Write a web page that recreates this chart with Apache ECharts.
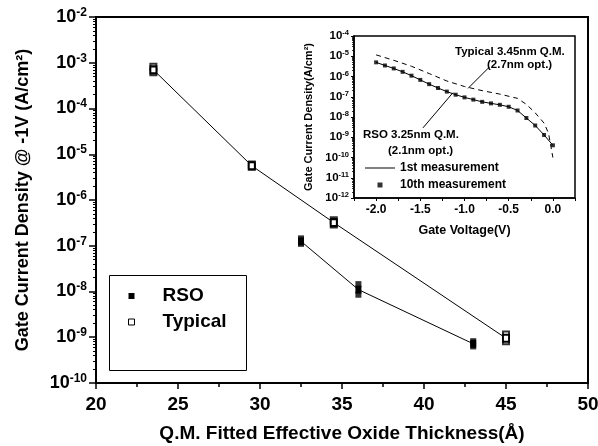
<!DOCTYPE html>
<html>
<head>
<meta charset="utf-8">
<script src="https://cdn.jsdelivr.net/npm/echarts@6/dist/echarts.min.js"></script>
<style>
  html, body { margin: 0; padding: 0; background: #fff; }
  #chart { width: 598px; height: 446px; }
</style>
</head>
<body>
<div id="chart"></div>
<script>
  // main plot: J @ -1V vs fitted oxide thickness (Angstrom)
  const thickTypical = [23.5, 29.5, 34.5, 45];
  const jTypical     = [7.0e-4, 5.6e-6, 3.2e-7, 9.5e-10];
  const jTypicalHi   = [8.2e-4, 6.0e-6, 3.6e-7, 1.15e-9];
  const jTypicalLo   = [6.2e-4, 5.3e-6, 2.9e-7, 8.2e-10];
  const thickRso = [32.5, 36, 43];
  const jRso     = [1.25e-7, 1.1e-8, 7.2e-10];
  const jRsoHi   = [1.45e-7, 1.45e-8, 8.2e-10];
  const jRsoLo   = [1.1e-7, 8.5e-9, 6.3e-10];

  // inset: J-V curves
  const gateV = [-2.0, -1.9, -1.8, -1.7, -1.6, -1.5, -1.4, -1.3, -1.2, -1.1, -1.0,
                 -0.9, -0.8, -0.7, -0.6, -0.5, -0.4, -0.3, -0.2, -0.1, 0.0];
  const jRsoCurve = [5.0e-6, 3.5e-6, 2.5e-6, 1.7e-6, 1.1e-6, 6.8e-7, 4.2e-7, 2.7e-7, 1.8e-7, 1.26e-7, 9.3e-8,
                     7.2e-8, 5.6e-8, 4.7e-8, 4.0e-8, 3.2e-8, 2.1e-8, 8.9e-9, 3.8e-9, 1.3e-9, 4.0e-10];
  const gateVTypical = [-2.0, -1.8, -1.6, -1.4, -1.2, -1.0, -0.8, -0.6, -0.4, -0.3, -0.2, -0.1, -0.05, 0.0];
  const jTypicalCurve = [1.17e-5, 6.3e-6, 3.2e-6, 1.4e-6, 6.0e-7, 3.2e-7, 2.0e-7, 1.35e-7, 8.3e-8,
                         4.2e-8, 1.6e-8, 5.0e-9, 1.6e-9, 1.0e-10];
  // leader lines from labels to curves [V, J]
  const leaderTypical = [[-0.72, 2.9e-6], [-0.96, 2.6e-7]];
  const leaderRso     = [[-1.47, 2.9e-9], [-1.13, 1.6e-7]];

  const FONT = '"Liberation Sans", Arial, sans-serif';
  const SQ = 'path://M0,0h10v10h-10z';
  const LINE_ICON = 'path://M0,0h30v1h-30z';

  function zip(xs, ys) { return xs.map((x, i) => [x, ys[i]]); }
  function expLabel(v) { return '{b|10}{s|' + Math.round(Math.log10(v)) + '}'; }

  let myChart = echarts.init(document.getElementById('chart'));
  let option = {
    backgroundColor: '#fff',
    animation: false,
    textStyle: { fontFamily: FONT, color: '#000' },
    grid: [
      { left: 96, right: 10, top: 17, bottom: 63, outerBoundsMode: 'none', containLabel: false,
        show: true, borderColor: '#000', borderWidth: 2, backgroundColor: '#fff' },
      { left: 354, right: 23, top: 36, bottom: 248, outerBoundsMode: 'none', containLabel: false,
        show: true, borderColor: '#000', borderWidth: 1.5, backgroundColor: '#fff' }
    ],
    xAxis: [
      {
        gridIndex: 0, type: 'value', min: 20, max: 50, interval: 5,
        name: 'Q.M. Fitted Effective Oxide Thickness(Å)', nameLocation: 'middle', nameGap: 41,
        nameTextStyle: { fontFamily: FONT, fontWeight: 'bold', fontSize: 19, color: '#000' },
        axisLine: { onZero: false, lineStyle: { color: '#000', width: 2 } },
        axisTick: { length: 6, lineStyle: { color: '#000', width: 1.5 } },
        minorTick: { show: true, splitNumber: 2, length: 4, lineStyle: { color: '#000', width: 1.5 } },
        axisLabel: { margin: 12, fontFamily: FONT, fontWeight: 'bold', fontSize: 19, color: '#000' },
        splitLine: { show: false }
      },
      {
        gridIndex: 1, type: 'value', min: -2.25, max: 0.25, interval: 0.25,
        name: 'Gate Voltage(V)', nameLocation: 'middle', nameGap: 26,
        nameTextStyle: { fontFamily: FONT, fontWeight: 'bold', fontSize: 12.5, color: '#000' },
        axisLine: { onZero: false, lineStyle: { color: '#000', width: 1.5 } },
        axisTick: { length: 3, lineStyle: { color: '#000', width: 1 } },
        axisLabel: {
          margin: 6, fontFamily: FONT, fontWeight: 'bold', fontSize: 12, color: '#000',
          formatter: v => (Math.abs(v * 2 - Math.round(v * 2)) < 1e-6 && v <= 0) ? v.toFixed(1) : ''
        },
        splitLine: { show: false }
      }
    ],
    yAxis: [
      {
        gridIndex: 0, type: 'log', logBase: 10, min: 1e-10, max: 1e-2, splitNumber: 8,
        name: 'Gate Current Density @ -1V (A/cm²)', nameLocation: 'middle', nameGap: 64,
        nameTextStyle: { fontFamily: FONT, fontWeight: 'bold', fontSize: 18, color: '#000' },
        axisLine: { onZero: false, lineStyle: { color: '#000', width: 2 } },
        axisTick: { length: 7, lineStyle: { color: '#000', width: 1.5 } },
        minorTick: { show: true, splitNumber: 9, length: 3, lineStyle: { color: '#000', width: 1 } },
        axisLabel: {
          margin: 9, formatter: expLabel,
          rich: {
            b: { fontFamily: FONT, fontWeight: 'bold', fontSize: 18, color: '#000' },
            s: { fontFamily: FONT, fontWeight: 'bold', fontSize: 12, color: '#000', padding: [0, 0, 9, 0] }
          }
        },
        splitLine: { show: false }
      },
      {
        gridIndex: 1, type: 'log', logBase: 10, min: 1e-12, max: 1e-4, splitNumber: 8,
        name: 'Gate Current Density(A/cm²)', nameLocation: 'middle', nameGap: 40,
        nameTextStyle: { fontFamily: FONT, fontWeight: 'bold', fontSize: 11, color: '#000' },
        axisLine: { onZero: false, lineStyle: { color: '#000', width: 1.5 } },
        axisTick: { length: 3, lineStyle: { color: '#000', width: 1 } },
        minorTick: { show: true, splitNumber: 9, length: 2, lineStyle: { color: '#000', width: 0.8 } },
        axisLabel: {
          margin: 5, formatter: expLabel,
          rich: {
            b: { fontFamily: FONT, fontWeight: 'bold', fontSize: 11.5, color: '#000' },
            s: { fontFamily: FONT, fontWeight: 'bold', fontSize: 7.5, color: '#000', padding: [0, 0, 6, 0] }
          }
        },
        splitLine: { show: false }
      }
    ],
    legend: [
      {
        data: [
          { name: 'RSO', icon: SQ, itemStyle: { color: '#000' } },
          { name: 'Typical', icon: SQ, itemStyle: { color: '#fff', borderColor: '#000', borderWidth: 1 } }
        ],
        orient: 'vertical', left: 128, top: 286, padding: 0,
        itemWidth: 6, itemHeight: 6, itemGap: 6, selectedMode: false,
        textStyle: { fontFamily: FONT, fontWeight: 'bold', fontSize: 19, lineHeight: 20, color: '#000',
                     padding: [0, 0, 0, 23] }
      },
      {
        data: [
          { name: '1st measurement', icon: LINE_ICON, itemStyle: { color: '#000' } },
          { name: '10th measurement', icon: SQ, itemStyle: { color: '#000' } }
        ],
        orient: 'vertical', left: 365, top: 161, padding: 0,
        itemWidth: 30, itemHeight: 5, itemGap: 3, selectedMode: false,
        textStyle: { fontFamily: FONT, fontWeight: 'bold', fontSize: 12, lineHeight: 14, color: '#000' }
      }
    ],
    graphic: [
      { type: 'rect', left: 107, top: 273, shape: { width: 137, height: 95 },
        style: { fill: 'none', stroke: '#000', lineWidth: 1 }, z: 100 },
      { type: 'text', left: 455, top: 46, style: { text: 'Typical 3.45nm Q.M.', font: 'bold 11.5px ' + FONT, fill: '#000' }, z: 100 },
      { type: 'text', left: 487, top: 59, style: { text: '(2.7nm opt.)', font: 'bold 11.5px ' + FONT, fill: '#000' }, z: 100 },
      { type: 'text', left: 363, top: 129, style: { text: 'RSO 3.25nm Q.M.', font: 'bold 11.5px ' + FONT, fill: '#000' }, z: 100 },
      { type: 'text', left: 388, top: 145, style: { text: '(2.1nm opt.)', font: 'bold 11.5px ' + FONT, fill: '#000' }, z: 100 }
    ],
    series: [
      {
        name: 'RSO', type: 'line', xAxisIndex: 0, yAxisIndex: 0,
        data: zip(thickRso, jRso),
        symbol: 'rect', symbolSize: [6, 8],
        itemStyle: { color: '#000' }, lineStyle: { color: '#000', width: 1 }
      },
      {
        name: 'RSO spread', type: 'scatter', xAxisIndex: 0, yAxisIndex: 0,
        data: zip(thickRso, jRsoHi).concat(zip(thickRso, jRsoLo)),
        symbol: 'rect', symbolSize: [6, 6], itemStyle: { color: '#000' }
      },
      {
        name: 'Typical', type: 'line', xAxisIndex: 0, yAxisIndex: 0,
        data: zip(thickTypical, jTypical),
        symbol: 'emptyRect', symbolSize: [6, 7],
        itemStyle: { color: '#000', borderWidth: 1 }, lineStyle: { color: '#000', width: 1 }
      },
      {
        name: 'Typical spread', type: 'scatter', xAxisIndex: 0, yAxisIndex: 0,
        data: zip(thickTypical, jTypicalHi).concat(zip(thickTypical, jTypicalLo)),
        symbol: 'emptyRect', symbolSize: [6, 6], itemStyle: { color: '#000', borderWidth: 1 }
      },
      {
        name: 'Typical 3.45nm', type: 'line', xAxisIndex: 1, yAxisIndex: 1,
        data: zip(gateVTypical, jTypicalCurve), symbol: 'none',
        lineStyle: { color: '#000', width: 1, type: [5, 4] },
        markLine: {
          silent: true, symbol: 'none', label: { show: false },
          lineStyle: { color: '#000', width: 1, type: 'solid' },
          data: [
            [{ coord: leaderTypical[0] }, { coord: leaderTypical[1] }],
            [{ coord: leaderRso[0] }, { coord: leaderRso[1] }]
          ]
        }
      },
      {
        name: '1st measurement', type: 'line', xAxisIndex: 1, yAxisIndex: 1,
        data: zip(gateV, jRsoCurve), symbol: 'none',
        lineStyle: { color: '#000', width: 1 }
      },
      {
        name: '10th measurement', type: 'scatter', xAxisIndex: 1, yAxisIndex: 1,
        data: zip(gateV, jRsoCurve), symbol: 'rect', symbolSize: 4,
        itemStyle: { color: '#000' }
      }
    ]
  };
  myChart.setOption(option);
</script>
</body>
</html>
